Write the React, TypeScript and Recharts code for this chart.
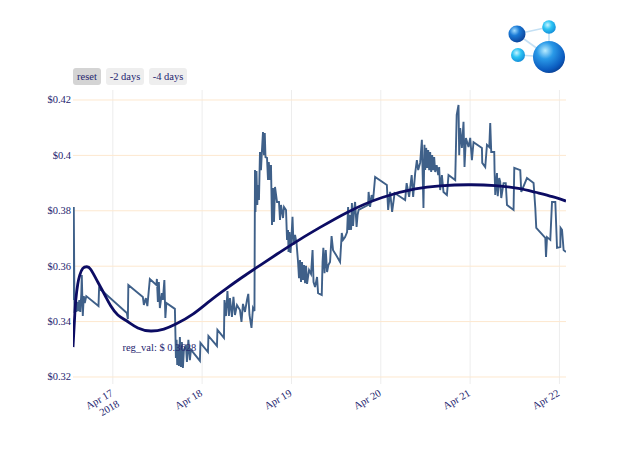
import React from "react";
import {
  ComposedChart,
  Line,
  ReferenceDot,
  ReferenceLine,
  XAxis,
  YAxis,
} from "recharts";

// hours since Apr 17 2018 00:00 -> price in USD
const pricePoints: [number, number][] = [
  [-10.7, 0.3478], [-10.49, 0.3814], [-10.3, 0.3431], [-10.09, 0.3485], [-9.82, 0.3435],
  [-9.55, 0.3471], [-9.28, 0.3438], [-9.01, 0.3478], [-8.74, 0.3435], [-8.47, 0.35],
  [-8.34, 0.3568], [-8.07, 0.342], [-7.8, 0.3492], [-7.53, 0.3467], [-7.13, 0.3492],
  [-3.85, 0.3456], [-3.69, 0.3521], [3.77, 0.3431], [4.04, 0.3409], [4.17, 0.3532],
  [8.07, 0.3489], [8.34, 0.346], [8.88, 0.3485], [9.28, 0.3456], [9.95, 0.3554],
  [11.7, 0.3532], [11.84, 0.3554], [12.11, 0.3471], [12.37, 0.3543], [12.64, 0.3449],
  [13.18, 0.3503], [13.45, 0.3478], [13.85, 0.355], [14.12, 0.3413], [14.39, 0.3467],
  [16.68, 0.3446], [16.95, 0.3269], [17.14, 0.3334], [17.3, 0.3243], [17.49, 0.3316],
  [17.75, 0.324], [18.02, 0.3344], [18.29, 0.3236], [18.56, 0.3326], [18.83, 0.3233],
  [19.1, 0.3298], [19.64, 0.3316], [19.91, 0.3254], [20.31, 0.3334], [20.71, 0.3261],
  [20.98, 0.3298], [21.52, 0.329], [23.4, 0.3258], [23.54, 0.3323], [25.56, 0.329],
  [25.69, 0.3348], [27.98, 0.3312], [28.11, 0.337], [29.86, 0.3341], [30.0, 0.3478],
  [30.4, 0.342], [30.8, 0.351], [31.2, 0.342], [31.47, 0.3485], [32.01, 0.3417],
  [32.41, 0.3489], [32.82, 0.3424], [33.36, 0.346], [34.16, 0.3442], [34.57, 0.3399],
  [34.97, 0.3464], [35.51, 0.3435], [36.05, 0.3478], [36.4, 0.35], [36.72, 0.3424],
  [37.26, 0.3377], [37.66, 0.3449], [38.06, 0.3438], [38.2, 0.3947], [38.33, 0.3796],
  [38.6, 0.3944], [38.82, 0.3821], [39.01, 0.3893], [39.27, 0.3839], [39.54, 0.4012],
  [39.81, 0.3947], [40.08, 0.402], [40.35, 0.4084], [40.62, 0.4001], [40.83, 0.4081],
  [41.02, 0.3994], [41.43, 0.3991], [41.7, 0.3911], [41.91, 0.3976], [42.23, 0.3911],
  [42.5, 0.3965], [42.77, 0.3749], [43.04, 0.3882], [43.31, 0.376], [43.58, 0.3886],
  [44.12, 0.3832], [44.65, 0.3832], [44.92, 0.3767], [45.19, 0.3821], [45.73, 0.3774],
  [46.0, 0.3814], [46.54, 0.3803], [46.81, 0.3695], [47.08, 0.3731], [47.21, 0.3651],
  [47.48, 0.3723], [47.75, 0.3648], [48.02, 0.3709], [48.28, 0.3778], [48.55, 0.3677],
  [48.96, 0.3713], [49.36, 0.3684], [49.77, 0.3615], [50.03, 0.3557], [50.3, 0.3622],
  [50.57, 0.3543], [50.84, 0.3615], [51.11, 0.355], [51.38, 0.3604], [51.65, 0.3539],
  [51.92, 0.3601], [52.19, 0.3536], [52.72, 0.3586], [53.26, 0.3572], [53.67, 0.3658],
  [53.93, 0.3543], [54.34, 0.3525], [54.88, 0.3561], [55.15, 0.3503], [56.14, 0.3496],
  [56.36, 0.3615], [56.57, 0.3666], [56.89, 0.3575], [57.22, 0.3658], [57.57, 0.3579],
  [57.92, 0.3604], [58.37, 0.3615], [58.78, 0.3709], [59.18, 0.3658], [59.99, 0.364],
  [61.06, 0.3615], [61.52, 0.372], [61.87, 0.3695], [62.41, 0.3705], [62.95, 0.3723],
  [63.22, 0.3814], [63.48, 0.3731], [63.75, 0.3785], [64.02, 0.3731], [64.24, 0.3828],
  [64.56, 0.3745], [64.83, 0.3803], [65.1, 0.3832], [65.5, 0.3742], [65.77, 0.3785],
  [66.04, 0.3803], [68.6, 0.3821], [68.73, 0.3868], [69.13, 0.3814], [69.54, 0.3857],
  [69.94, 0.3839], [70.48, 0.3922], [73.63, 0.3893], [73.98, 0.3803], [74.51, 0.3868],
  [75.05, 0.3796], [75.72, 0.3864], [78.55, 0.3839], [78.95, 0.39], [79.62, 0.385],
  [80.3, 0.3929], [80.7, 0.385], [81.24, 0.3936], [81.7, 0.3983], [82.05, 0.3947],
  [82.58, 0.3973], [83.04, 0.4056], [83.26, 0.3929], [83.47, 0.381], [83.74, 0.4038],
  [83.93, 0.3947], [84.2, 0.4027], [84.47, 0.3955], [84.74, 0.4019], [85.0, 0.3947],
  [85.27, 0.4012], [85.54, 0.394], [85.81, 0.4001], [86.08, 0.3947], [86.35, 0.3994],
  [86.62, 0.394], [87.02, 0.3965], [87.43, 0.3929], [87.69, 0.3958], [87.96, 0.3875],
  [88.42, 0.3929], [88.85, 0.3868], [89.77, 0.3857], [90.2, 0.3929], [92.0, 0.3911],
  [92.4, 0.4146], [92.89, 0.4182], [93.07, 0.4001], [93.34, 0.4099], [93.8, 0.4027],
  [94.23, 0.4121], [94.5, 0.3958], [94.88, 0.4063], [95.58, 0.403], [96.03, 0.4063],
  [96.49, 0.3983], [96.92, 0.4048], [99.18, 0.4027], [99.26, 0.3973], [100.07, 0.3958],
  [100.53, 0.4038], [101.15, 0.403], [101.41, 0.4117], [101.68, 0.4012], [102.49, 0.4012],
  [102.57, 0.3947], [102.76, 0.3857], [103.22, 0.3936], [103.43, 0.3853], [103.83, 0.3918],
  [104.1, 0.3904], [104.37, 0.3846], [104.99, 0.39], [105.58, 0.39], [105.91, 0.3821],
  [107.68, 0.3803], [107.87, 0.3955], [109.48, 0.3947], [109.75, 0.3868], [111.28, 0.3918],
  [113.06, 0.39], [113.52, 0.381], [113.78, 0.3738], [116.21, 0.3702], [116.4, 0.3633],
  [116.67, 0.3705], [117.55, 0.3695], [118.01, 0.3832], [118.9, 0.3832], [119.36, 0.3666],
  [120.24, 0.3669], [120.32, 0.3738], [120.7, 0.3731], [121.13, 0.3658], [121.77, 0.3651],
];

// fitted regression curve, same time base
const regressionPoints: [number, number][] = [
  [-10.7, 0.3308], [-10.3, 0.3406], [-9.95, 0.3478], [-9.42, 0.3536], [-8.88, 0.3568],
  [-8.07, 0.3592], [-6.99, 0.3598], [-5.92, 0.3588], [-4.04, 0.3543], [-2.15, 0.3496],
  [-0.54, 0.3456], [1.35, 0.3424], [3.77, 0.3402], [6.73, 0.3377], [10.22, 0.3366],
  [13.72, 0.3373], [16.95, 0.3391], [21.52, 0.3427], [26.1, 0.3475], [30.67, 0.3521],
  [34.98, 0.3562], [39.55, 0.3603], [44.93, 0.3651], [50.31, 0.3697], [55.69, 0.3740],
  [63.22, 0.3796], [72.37, 0.3848], [81.25, 0.3879], [87.97, 0.389], [95.5, 0.3894],
  [102.77, 0.3891], [108.96, 0.3881], [113.53, 0.3867], [118.11, 0.3851], [121.77, 0.3835],
];

const dayTicks = [0, 24, 48, 72, 96, 120];
const dayLabels = [["Apr 17", "2018"], ["Apr 18"], ["Apr 19"], ["Apr 20"], ["Apr 21"], ["Apr 22"]];
const priceTicks = [0.32, 0.34, 0.36, 0.38, 0.4, 0.42];
const priceLabels = ["$0.32", "$0.34", "$0.36", "$0.38", "$0.4", "$0.42"];
const rangeButtons = ["reset", "-2 days", "-4 days"];
const regLabel = "reg_val: $ 0.3628";
const regLabelAt = { t: 12.5, price: 0.3308 };

const TEXT = "#25256e";
const FONT = '"Liberation Serif", "Times New Roman", serif';

const priceData = pricePoints.map(([t, price]) => ({ t, price }));
const regData = regressionPoints.map(([t, reg]) => ({ t, reg }));

function DayTick({ x, y, payload }: any) {
  const lines = dayLabels[dayTicks.indexOf(payload.value)] || [];
  const ax = x + 1;
  const ay = y + 11;
  return (
    <text
      x={ax}
      y={ay}
      textAnchor="end"
      fill={TEXT}
      fontSize={10.5}
      fontFamily={FONT}
      transform={`rotate(-30, ${ax}, ${ay})`}
    >
      {lines.map((l, i) => (
        <tspan key={l} x={ax} dy={i === 0 ? 0 : 12.5}>
          {l}
        </tspan>
      ))}
    </text>
  );
}

function PriceTick({ x, y, payload }: any) {
  return (
    <text x={x} y={y} dy={3.5} textAnchor="end" fill={TEXT} fontSize={10.5} fontFamily={FONT}>
      {priceLabels[priceTicks.indexOf(payload.value)]}
    </text>
  );
}

function Logo() {
  return (
    <svg width={80} height={72} style={{ position: "absolute", left: 495, top: 8 }}>
      <defs>
        <radialGradient id="big" cx="38%" cy="30%" r="75%">
          <stop offset="0%" stopColor="#b9ecff" />
          <stop offset="35%" stopColor="#2a9ae8" />
          <stop offset="80%" stopColor="#0b5cc0" />
          <stop offset="100%" stopColor="#0a3d8f" />
        </radialGradient>
        <radialGradient id="dark" cx="35%" cy="30%" r="75%">
          <stop offset="0%" stopColor="#9fdcff" />
          <stop offset="40%" stopColor="#1a7ad6" />
          <stop offset="100%" stopColor="#0a3f96" />
        </radialGradient>
        <radialGradient id="cyan" cx="40%" cy="35%" r="70%">
          <stop offset="0%" stopColor="#c9f4ff" />
          <stop offset="45%" stopColor="#2cc4f4" />
          <stop offset="100%" stopColor="#1189d6" />
        </radialGradient>
      </defs>
      <g stroke="#c4e0f4" strokeWidth={1.6}>
        <line x1={22} y1={26} x2={54} y2={19} />
        <line x1={22} y1={26} x2={54} y2={49} />
        <line x1={54} y1={19} x2={54} y2={49} />
        <line x1={23} y1={47} x2={54} y2={49} />
      </g>
      <circle cx={22} cy={26} r={8.5} fill="url(#dark)" />
      <circle cx={54} cy={19} r={6.8} fill="url(#cyan)" />
      <circle cx={23} cy={47} r={7} fill="url(#cyan)" />
      <circle cx={54} cy={49} r={16} fill="url(#big)" />
    </svg>
  );
}

function RangeButtons() {
  const lefts = [73, 106, 149];
  const widths = [28, 38, 38];
  return (
    <>
      {rangeButtons.map((b, i) => (
        <div
          key={b}
          style={{
            position: "absolute",
            left: lefts[i],
            top: 68,
            width: widths[i],
            height: 17,
            lineHeight: "17px",
            textAlign: "center",
            fontSize: 10.5,
            fontFamily: FONT,
            color: TEXT,
            background: i === 0 ? "#d4d4d4" : "#eeeeee",
            borderRadius: 3,
          }}
        >
          {b}
        </div>
      ))}
    </>
  );
}

export default function App() {
  return (
    <div style={{ position: "absolute", left: 0, top: 0, width: 640, height: 457, background: "#fff" }}>
      <ComposedChart width={640} height={457} margin={{ top: 90, right: 74, bottom: 0, left: 0 }}>
        <XAxis
          dataKey="t"
          type="number"
          domain={[-10.7, 121.77]}
          allowDataOverflow
          ticks={dayTicks}
          tick={<DayTick />}
          axisLine={false}
          tickLine={false}
          tickSize={0}
          tickMargin={0}
          height={73}
          interval={0}
        />
        <YAxis
          type="number"
          domain={[0.31747, 0.42361]}
          allowDataOverflow
          ticks={priceTicks}
          tick={<PriceTick />}
          axisLine={false}
          tickLine={false}
          tickSize={0}
          tickMargin={2}
          width={73}
          interval={0}
        />
        {dayTicks.map((d) => (
          <ReferenceLine key={`v${d}`} x={d} stroke="#ededed" strokeWidth={1} />
        ))}
        {priceTicks.map((p) => (
          <ReferenceLine key={`h${p}`} y={p} stroke="#fde8cf" strokeWidth={1} />
        ))}
        <Line
          data={priceData}
          dataKey="price"
          type="linear"
          stroke="#3f6089"
          strokeWidth={1.9}
          dot={false}
          activeDot={false}
          isAnimationActive={false}
        />
        <Line
          data={regData}
          dataKey="reg"
          type="natural"
          stroke="#0c0c63"
          strokeWidth={2.8}
          dot={false}
          activeDot={false}
          isAnimationActive={false}
        />
        <ReferenceDot
          x={regLabelAt.t}
          y={regLabelAt.price}
          r={0}
          fill="none"
          stroke="none"
          label={{ value: regLabel, position: "center", fill: TEXT, fontSize: 10.5, fontFamily: FONT }}
        />
      </ComposedChart>
      <RangeButtons />
      <Logo />
    </div>
  );
}
